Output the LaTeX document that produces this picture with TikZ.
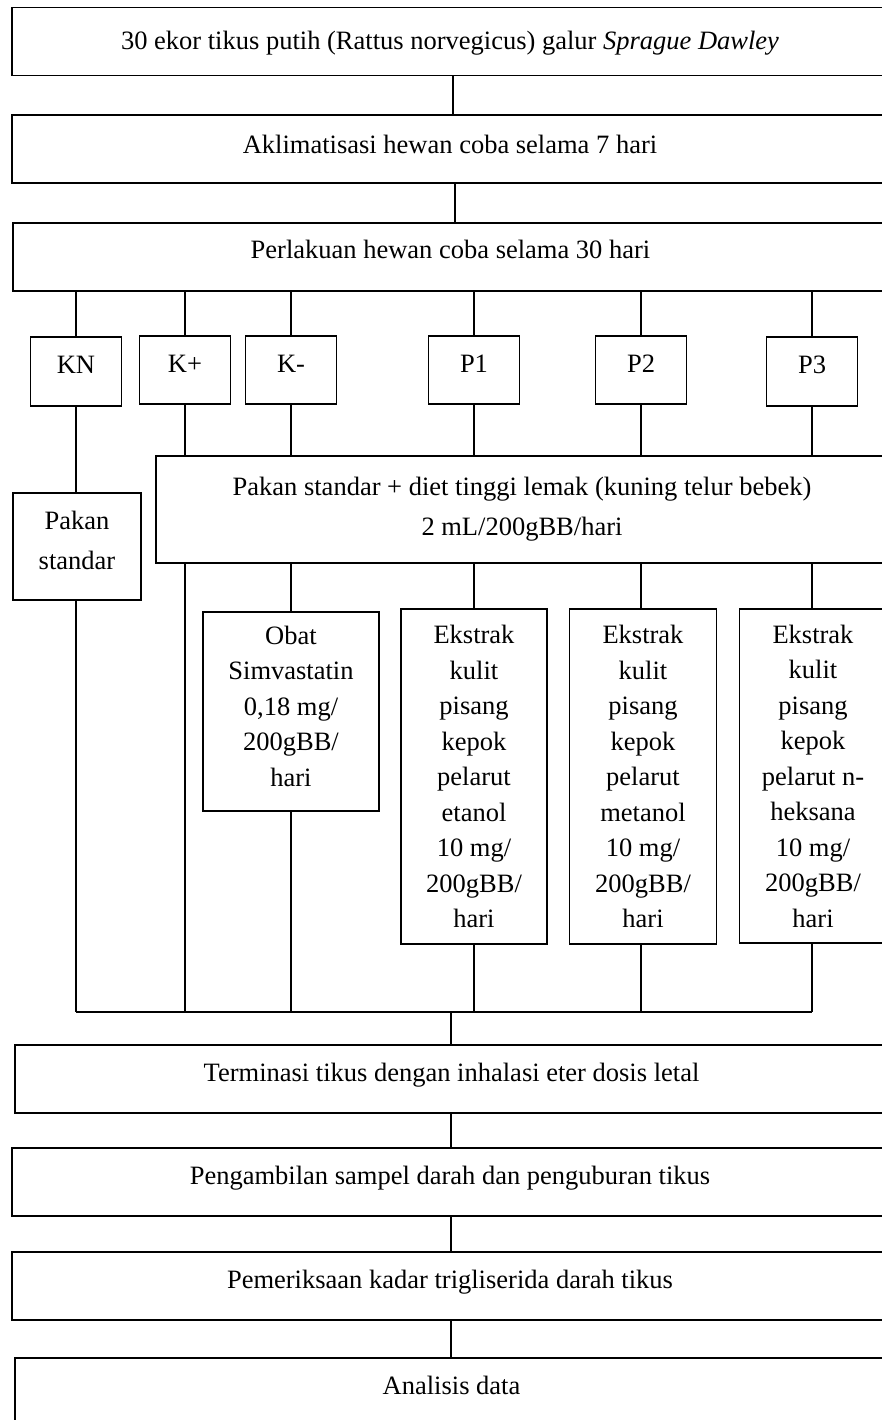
\documentclass[tikz,border=0pt]{standalone}
\usepackage{fontspec}
\setmainfont{Liberation Serif}
\begin{document}
\begin{tikzpicture}[x=1pt,y=-1pt,
  every node/.style={font=\fontsize{26.5}{35.5}\selectfont, inner sep=0pt},
  box/.style={draw, line width=1.3pt, rectangle, align=center},
  wide/.style={box, minimum height=68pt, text height=19pt, text depth=15pt},
  group/.style={box, minimum width=91pt, minimum height=68pt, text height=19pt, text depth=15pt},
  link/.style={line width=1.2pt}
]
% page frame, boxes run past the right and lower edges
\path[use as bounding box] (0,0) rectangle (882,1420);
\clip (0,0) rectangle (882,1420);

% main sequence at the top
\node[wide, minimum width=876pt, text depth=3pt] (b1) at (450,41.5)
  {30 ekor tikus putih (Rattus norvegicus) galur \textit{Sprague Dawley}};
\node[wide, minimum width=876pt, text depth=9pt] (b2) at (450,149)
  {Aklimatisasi hewan coba selama 7 hari};
\node[wide, minimum width=875pt] (b3) at (450.5,257)
  {Perlakuan hewan coba selama 30 hari};

% treatment groups
\node[group, minimum height=69pt] (kn) at (76,371.5) {KN};
\node[group] (kp) at (185,370) {K+};
\node[group] (km) at (291,370) {K-};
\node[group] (p1) at (474,370) {P1};
\node[group] (p2) at (641,370) {P2};
\node[group, minimum height=69pt] (p3) at (812,371.5) {P3};

% diets
\node[box, minimum width=128pt, minimum height=107pt, font=\fontsize{26.5}{40}\selectfont]
  (ps) at (77,546.5) {Pakan\\standar\rule[-13pt]{0pt}{0pt}};
\node[box, minimum width=732pt, minimum height=107pt, font=\fontsize{26.5}{40}\selectfont]
  (pd) at (522,509.5) {Pakan standar + diet tinggi lemak (kuning telur bebek)\\2 mL/200gBB/hari};

% drug and extract doses
\node[box, minimum width=176pt, minimum height=199pt] (ob) at (291,711.5)
  {Obat\\Simvastatin\\0,18 mg/\\200gBB/\\hari\rule[-11pt]{0pt}{0pt}};
\node[box, minimum width=146pt, minimum height=335pt] (e1) at (474,776.5)
  {Ekstrak\\kulit\\pisang\\kepok\\pelarut\\etanol\\10 mg/\\200gBB/\\hari};
\node[box, minimum width=147pt, minimum height=335pt] (e2) at (643,776.5)
  {Ekstrak\\kulit\\pisang\\kepok\\pelarut\\metanol\\10 mg/\\200gBB/\\hari};
\node[box, minimum width=147pt, minimum height=334pt] (e3) at (813,776)
  {Ekstrak\\kulit\\pisang\\kepok\\pelarut n-\\heksana\\10 mg/\\200gBB/\\hari};

% closing sequence
\node[wide, minimum width=873pt] (t1) at (451.5,1079)
  {Terminasi tikus dengan inhalasi eter dosis letal};
\node[wide, minimum width=876pt] (t2) at (450,1182)
  {Pengambilan sampel darah dan penguburan tikus};
\node[wide, minimum width=876pt] (t3) at (450,1286)
  {Pemeriksaan kadar trigliserida darah tikus};
\node[wide, minimum width=873pt] (t4) at (451.5,1392)
  {Analisis data};

% collecting line
\coordinate (busL) at (76,1012);
\coordinate (busR) at (812,1012);
\coordinate (busM) at (451,1012);

% connectors of the top sequence
\draw[link] ([xshift=3pt]b1.south) -- ([xshift=3pt]b1.south |- b2.north);
\draw[link] ([xshift=5pt]b2.south) -- ([xshift=5pt]b2.south |- b3.north);

% split into groups
\foreach \g in {kn,kp,km,p1,p2,p3}
  \draw[link] (\g.north |- b3.south) -- (\g.north);

% KN branch
\draw[link] (kn.south) -- (kn.south |- ps.north);
\draw[link] (ps.south -| kn.south) -- (kn.south |- busL);

% high-fat diet branches
\foreach \g in {kp,km,p1,p2,p3}
  \draw[link] (\g.south) -- (\g.south |- pd.north);
\draw[link] (kp.south |- pd.south) -- (kp.south |- busL);
\draw[link] (km.south |- pd.south) -- (ob.north);
\draw[link] (p1.south |- pd.south) -- (p1.south |- e1.north);
\draw[link] (p2.south |- pd.south) -- (p2.south |- e2.north);
\draw[link] (p3.south |- pd.south) -- (p3.south |- e3.north);

% into the collecting line
\draw[link] (ob.south) -- (ob.south |- busL);
\draw[link] (p1.south |- e1.south) -- (p1.south |- busL);
\draw[link] (p2.south |- e2.south) -- (p2.south |- busL);
\draw[link] (p3.south |- e3.south) -- (p3.south |- busL);
\draw[link] (busL) -- (busR);

% closing sequence connectors
\draw[link] (busM) -- (busM |- t1.north);
\draw[link] (busM |- t1.south) -- (busM |- t2.north);
\draw[link] (busM |- t2.south) -- (busM |- t3.north);
\draw[link] (busM |- t3.south) -- (busM |- t4.north);
\end{tikzpicture}
\end{document}
